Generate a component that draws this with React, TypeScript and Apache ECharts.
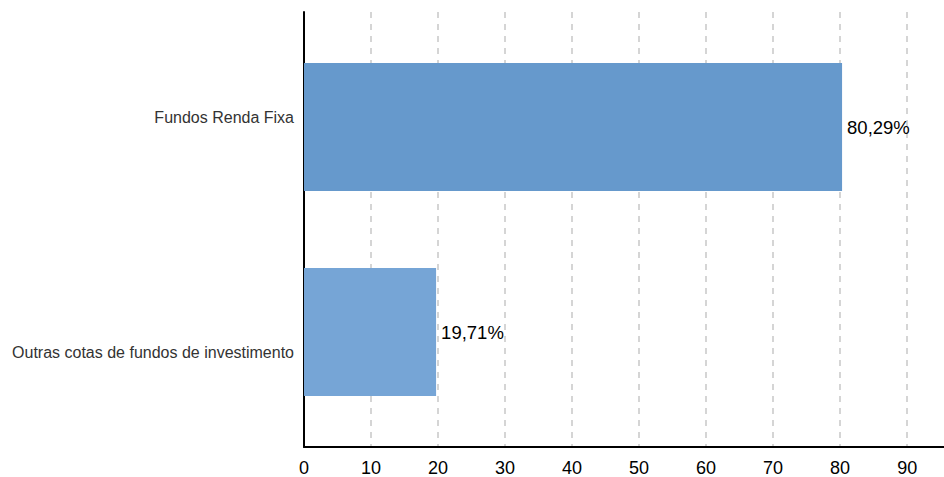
import React, { useEffect, useRef } from "react";
import * as echarts from "echarts";

const categories = ["Fundos Renda Fixa", "Outras cotas de fundos de investimento"];
const values = [80.29, 19.71];
const barColors = ["#6699cc", "#76a5d6"];
const FONT = "Liberation Sans, Arial, sans-serif";

export default function App() {
  const ref = useRef<HTMLDivElement>(null);
  useEffect(() => {
    const chart = echarts.init(ref.current!, null, { renderer: "svg" });
    chart.setOption({
      animation: false,
      grid: [
        { left: 304, right: 0, top: 12, bottom: 30, containLabel: false },
        { left: 304, right: 0, top: 24.5, height: 410, containLabel: false },
        { left: 304, right: 0, top: -7.5, height: 478, containLabel: false },
      ],
      xAxis: [
        {
          type: "value",
          gridIndex: 0,
          min: 0,
          max: 95.5,
          interval: 10,
          axisLine: { show: true, lineStyle: { color: "#000", width: 2 } },
          axisTick: { show: false },
          axisLabel: {
            color: "#000",
            fontSize: 18,
            fontFamily: FONT,
            margin: 12,
            showMaxLabel: false,
            formatter: (v: number) => (v % 10 === 0 ? String(v) : ""),
          },
          splitLine: { show: true, showMaxLine: false, lineStyle: { color: "#c8c8c8", type: [6, 6], width: 1.5 } },
        },
        { type: "value", gridIndex: 1, min: 0, max: 95.5, show: false, splitLine: { show: false } },
        { type: "value", gridIndex: 2, min: 0, max: 95.5, show: false, splitLine: { show: false } },
      ],
      yAxis: [
        {
          type: "category",
          gridIndex: 0,
          inverse: true,
          data: categories,
          axisLine: { show: true, lineStyle: { color: "#000", width: 2 } },
          axisTick: { show: false },
          axisLabel: { show: false },
        },
        {
          type: "category",
          gridIndex: 1,
          inverse: true,
          data: categories,
          axisLine: { show: false },
          axisTick: { show: false },
          axisLabel: { show: false },
        },
        {
          type: "category",
          gridIndex: 2,
          inverse: true,
          data: categories,
          axisLine: { show: false },
          axisTick: { show: false },
          axisLabel: {
            color: "#333",
            fontSize: 16,
            fontFamily: FONT,
            margin: 10,
          },
        },
      ],
      series: [
        {
          type: "bar",
          xAxisIndex: 1,
          yAxisIndex: 1,
          barWidth: 128,
          data: values.map((v, i) => ({ value: v, itemStyle: { color: barColors[i] } })),
          label: {
            show: true,
            position: "right",
            distance: 5,
            color: "#000",
            fontSize: 18.5,
            fontFamily: FONT,
            formatter: (p: any) => p.value.toFixed(2).replace(".", ",") + "%",
          },
        },
      ],
    });
    return () => chart.dispose();
  }, []);
  return <div ref={ref} style={{ width: 944, height: 477, position: "absolute", left: 0, top: 0 }} />;
}
